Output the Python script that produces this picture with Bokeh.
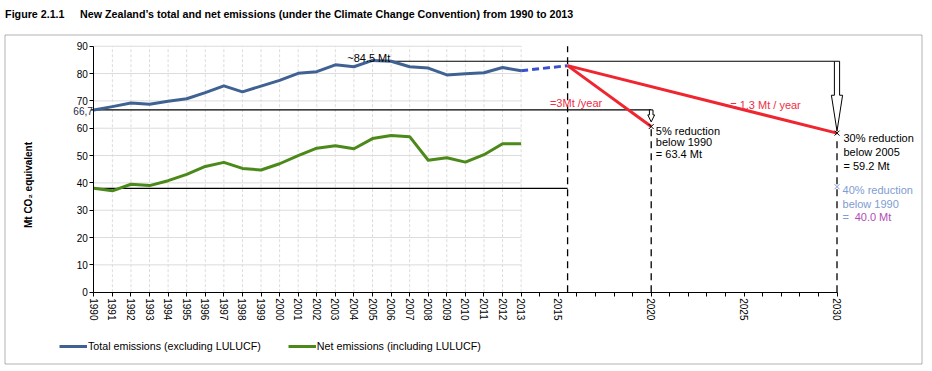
import math
from bokeh.plotting import figure
from bokeh.models import Range1d, FixedTicker, Label, Legend, LegendItem, BoxAnnotation
from bokeh.core.properties import value
from bokeh.embed import file_html
from bokeh.resources import INLINE

# ---------------- data ----------------
years = list(range(1990, 2014))
total_emissions = [66.7, 67.9, 69.2, 68.8, 69.9, 70.8, 73.0, 75.5, 73.3, 75.4, 77.5, 80.1,
                   80.7, 83.2, 82.5, 84.8, 84.5, 82.5, 82.0, 79.5, 79.9, 80.3, 82.2, 81.0]
net_emissions = [38.0, 37.1, 39.5, 39.0, 40.8, 43.1, 46.0, 47.5, 45.3, 44.7, 47.0, 50.0,
                 52.7, 53.6, 52.5, 56.2, 57.3, 56.9, 48.3, 49.2, 47.6, 50.3, 54.3, 54.3]

major_ticks = years + [2015, 2020, 2025, 2030]
minor_ticks = [2014, 2016, 2017, 2018, 2019, 2021, 2022, 2023, 2024, 2026, 2027, 2028, 2029]
y_ticks = [0, 10, 20, 30, 40, 50, 60, 70, 80, 90]

projection_years = [2013, 2015.5]
projection_values = [81.0, 82.9]
pathway_start = (2015.5, 82.9)
target_years = [2020, 2030]
target_values = [60.6, 58.2]          # where the targets are drawn
alt_target_year = 2030
alt_target_value = 38.6
total_1990 = 66.7
net_1990 = 38.0
peak_year = 2005
peak_value = 84.5
marker_year = 2015.5

# ---------------- geometry ----------------
W, H = 928, 368
PXX = 18.58          # pixels per year
PXY = 2.733          # pixels per Mt
X_1990 = 93.3        # pixel column of 1990
Y_ZERO = 291.7       # pixel row of 0 Mt
FONT = "Liberation Sans"

BLUE = "#3F6293"
GREEN = "#4B8A1A"
RED = "#EF2530"
RED_TXT = "#EE2E45"
LIGHT = "#7E9DD0"
PURPLE = "#B04DB6"

x_start = 1990 - X_1990 / PXX
x_end = 1990 + (W - X_1990) / PXX
y_start = -(H - Y_ZERO) / PXY
y_end = Y_ZERO / PXY

p = figure(width=W, height=H, output_backend="svg", toolbar_location=None,
           x_range=Range1d(x_start, x_end), y_range=Range1d(y_start, y_end),
           min_border=0, min_border_left=0, min_border_right=0, min_border_top=0,
           min_border_bottom=0)
p.outline_line_color = None
p.xgrid.visible = False
p.ygrid.visible = False
p.background_fill_color = "white"
p.border_fill_color = "white"

# axes drawn at fixed data locations inside the frame
xa = p.xaxis[0]
xa.fixed_location = 0
xa.ticker = FixedTicker(ticks=major_ticks, minor_ticks=minor_ticks)
xa.bounds = (1990, 2030)
xa.major_label_orientation = "vertical"
xa.major_label_text_font = FONT
xa.major_label_text_font_size = "10px"
xa.major_label_text_color = "black"
xa.major_tick_in = 0
xa.major_tick_out = 4
xa.minor_tick_in = 0
xa.minor_tick_out = 4
xa.major_label_standoff = 2
xa.axis_line_color = "black"
xa.major_tick_line_color = "black"
xa.minor_tick_line_color = "black"

ya = p.yaxis[0]
ya.fixed_location = 1990
ya.ticker = FixedTicker(ticks=y_ticks, minor_ticks=[])
ya.bounds = (0, 90)
ya.major_label_text_font = FONT
ya.major_label_text_font_size = "10px"
ya.major_label_text_color = "black"
ya.major_tick_in = 0
ya.major_tick_out = 4
ya.major_label_standoff = 2
ya.axis_line_color = "black"
ya.major_tick_line_color = "black"

# custom grid limited to the data period
p.segment(x0=[years[0]] * (len(y_ticks) - 1), x1=[years[-1]] * (len(y_ticks) - 1),
          y0=y_ticks[1:], y1=y_ticks[1:], line_color="#DCDCDC", line_width=1)
p.segment(x0=years[1:], x1=years[1:], y0=[0] * (len(years) - 1), y1=[90] * (len(years) - 1),
          line_color="#DCDCDC", line_width=1, line_dash="3 2")

# reference lines
p.segment(x0=[years[0] - 0.15, years[0], peak_year],
          x1=[target_years[0], marker_year, target_years[1] - 2.6 / PXX],
          y0=[total_1990, net_1990, peak_value], y1=[total_1990, net_1990, peak_value],
          line_color="black", line_width=1.2)

# vertical dashed lines
p.segment(x0=[marker_year, target_years[0], target_years[1]],
          x1=[marker_year, target_years[0], target_years[1]],
          y0=[0, 0, 0],
          y1=[90, target_values[0] - 1, target_values[1] - 2],
          line_color="black", line_width=1.3, line_dash="7 5")

# data lines
r_total = p.line(years, total_emissions, line_color=BLUE, line_width=3, line_join="round")
r_net = p.line(years, net_emissions, line_color=GREEN, line_width=3, line_join="round")
p.line(projection_years, projection_values, line_color="#3A50D0", line_width=3, line_dash="7 4")

# pathways
for ty, tv in zip(target_years, target_values):
    p.line([pathway_start[0], ty], [pathway_start[1], tv], line_color=RED, line_width=3)


# outlined arrows
def arrow(xc, top, shaft_bottom, tip, sh_px, hh_px):
    sh = sh_px / PXX
    hh = hh_px / PXX
    xs = [xc - sh, xc + sh, xc + sh, xc + hh, xc, xc - hh, xc - sh]
    ys = [top, top, shaft_bottom, shaft_bottom, tip, shaft_bottom, shaft_bottom]
    return xs, ys


for spec in [(target_years[0], total_1990, total_1990 - 5 / PXY, total_1990 - 12 / PXY, 1.8, 3.4),
             (target_years[1], peak_value, peak_value - 34 / PXY, target_values[1] + 2 / PXY, 2.6, 5.6)]:
    xs, ys = arrow(*spec)
    p.patch(xs, ys, fill_color="white", line_color="black", line_width=1)

# target markers
p.scatter(target_years, target_values, marker="x", size=7, line_color="black", line_width=1)
p.scatter([alt_target_year], [alt_target_value], marker="x", size=7, line_color=LIGHT, line_width=1)

# in-frame texts
tf = value(FONT)
p.text(x=[peak_year - 0.2], y=[peak_value], text=["~84.5 Mt"], text_font=tf, text_font_size="11px",
       text_align="center", text_baseline="alphabetic", y_offset=-3, text_color="black")
p.text(x=[2014.55, 2024.25], y=[69.2, 68.6], text=["=3Mt /year", "= 1.3 Mt / year"], text_font=tf,
       text_font_size="11px", text_align="left", text_baseline="alphabetic", text_color=RED_TXT)
p.text(x=[2020.25] * 3, y=[58.9, 54.9, 50.4], text=["5% reduction", "below 1990", "= 63.4 Mt"],
       text_font=tf, text_font_size="11px", text_align="left", text_baseline="alphabetic",
       text_color="black")
p.text(x=[2030.35] * 3, y=[56.5, 51.2, 46.1], text=["30% reduction", "below 2005", "= 59.2 Mt"],
       text_font=tf, text_font_size="11px", text_align="left", text_baseline="alphabetic",
       text_color="black")
p.text(x=[2030.3] * 3, y=[37.5, 32.3, 27.4], text=["40% reduction", "below 1990", "="],
       text_font=tf, text_font_size="11px", text_align="left", text_baseline="alphabetic",
       text_color=LIGHT)
p.text(x=[2030.95], y=[27.4], text=["40.0 Mt"], text_font=tf, text_font_size="11px",
       text_align="left", text_baseline="alphabetic", text_color=PURPLE)
p.text(x=[1990], y=[total_1990], text=["66,7"], text_font=tf, text_font_size="10px",
       text_align="right", text_baseline="middle", x_offset=-1, y_offset=1, text_color="#1A2A48")

# title, axis title, border (screen units, y measured from the bottom)
p.add_layout(Label(x=4.6, y=H - 13, x_units="screen", y_units="screen", text="Figure 2.1.1",
                   text_font=FONT, text_font_size="10.7px", text_font_style="bold",
                   text_align="left", text_baseline="alphabetic", text_color="black"))
p.add_layout(Label(x=79.6, y=H - 13, x_units="screen", y_units="screen",
                   text="New Zealand\u2019s total and net emissions (under the Climate Change Convention) from 1990 to 2013",
                   text_font=FONT, text_font_size="10.7px", text_font_style="bold",
                   text_align="left", text_baseline="alphabetic", text_color="black"))
p.add_layout(Label(x=28, y=H - 184.5, x_units="screen", y_units="screen", text="Mt CO\u2082 equivalent",
                   angle=math.pi / 2, text_font=FONT, text_font_size="10px", text_font_style="bold",
                   text_align="center", text_baseline="middle", text_color="black"))
p.add_layout(BoxAnnotation(left=4.5, right=921.5, top=H - 34.5, bottom=H - 363.5,
                           left_units="screen", right_units="screen", top_units="screen",
                           bottom_units="screen", fill_alpha=0, line_color="black", line_width=1,
                           level="overlay"))

# legend
legend = Legend(items=[LegendItem(label="Total emissions (excluding LULUCF)", renderers=[r_total]),
                       LegendItem(label="Net emissions (including LULUCF)", renderers=[r_net])],
                location=(59, H - 352), orientation="horizontal", padding=0, margin=0,
                spacing=27, glyph_width=28, glyph_height=12, label_height=12, label_standoff=1,
                label_text_font=FONT, label_text_font_size="10.7px", label_text_color="black",
                border_line_color=None, background_fill_alpha=0)
p.add_layout(legend, "center")

open("out.html", "w").write(file_html(p, INLINE))
